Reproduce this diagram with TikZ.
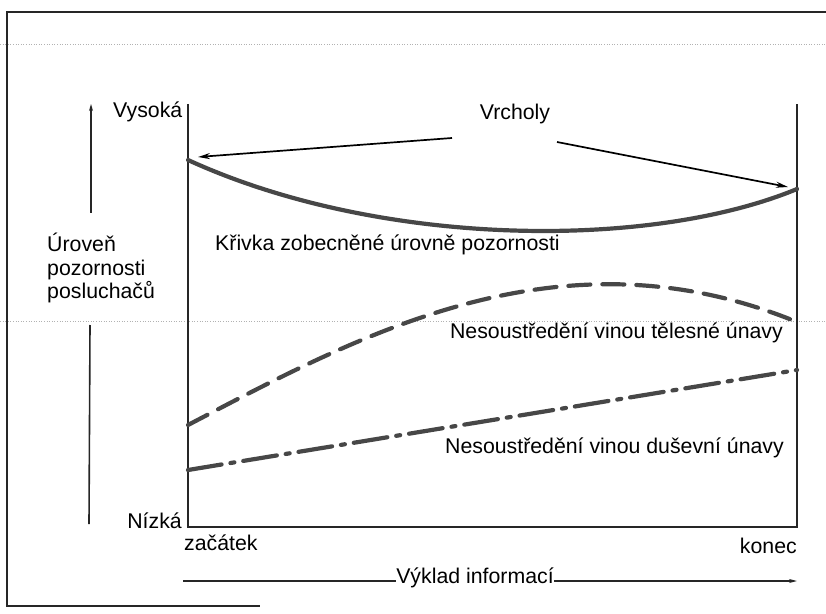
\documentclass[tikz,border=0pt]{standalone}
\usepackage{fontspec}
\setmainfont{Liberation Sans}
\usetikzlibrary{arrows.meta}
\begin{document}
\begin{tikzpicture}[x=1bp,y=-1bp,
  lbl/.style={font=\fontsize{21.3bp}{23.5bp}\selectfont, inner sep=0pt},
  axis/.style={line width=2.6bp, black!85},
  slim/.style={line width=1.6bp, black!85},
  curve/.style={line width=4.2bp, black!72, line cap=round},
  pointer/.style={line width=1.7bp, -{Stealth[length=12bp,width=6bp]}},
  scanline/.style={black!30, line width=0.6bp, dotted},
]
\useasboundingbox (0,0) rectangle (826,614);

% outer frame and faint ruling
\draw[line width=1.5bp, black!85] (826,12) -- (7,12) -- (7,606) -- (260,606);
\draw[scanline] (0,44) -- (826,44);
\draw[scanline] (0,321) -- (826,321);

% chart box
\coordinate (tl) at (188,104);
\coordinate (o)  at (188,527);
\coordinate (br) at (797,527);
\coordinate (tr) at (797,104);
\draw[axis] (tl) -- (o) -- (br) -- (tr);

% vertical scale with its label
\node[lbl, align=left, anchor=west] (ylab) at (47,268) {Úroveň\\pozornosti\\posluchačů};
\coordinate (ytop) at (91,104);
\coordinate (ygap1) at (91,213);
\coordinate (ygap2) at (90,325);
\coordinate (ybot) at (89,524);
\draw[slim, -{Stealth[length=7bp,width=4bp]}] (ygap1) -- (ytop);
\draw[slim] (ygap2) -- (ybot);
\node[lbl, anchor=base west] (high) at (113,118) {Vysoká};
\node[lbl, anchor=base east] (low) at (182,528) {Nízká};

% horizontal scale
\node[lbl, anchor=base west] (start) at (184,550) {začátek};
\node[lbl, anchor=base east] (end) at (797,553) {konec};
\node[lbl, anchor=base] (vyklad) at (475,583) {Výklad informací};
\coordinate (xl) at (183,581);
\coordinate (xr) at (797,581);
\draw[slim] (xl) -- (xl -| vyklad.west);
\draw[slim, -{Stealth[length=8bp,width=4bp]}] (xr -| vyklad.east) -- (xr);

% peaks
\node[lbl, anchor=base] (peaks) at (515,120) {Vrcholy};
\coordinate (pl0) at (452,138);
\coordinate (pl1) at (198,157);
\coordinate (pr0) at (557,142);
\coordinate (pr1) at (788,187);
\draw[pointer] (pl0) -- (pl1);
\draw[pointer] (pr0) -- (pr1);

% curves
\draw[curve] (188,160) .. controls (380,248) and (650,250) .. (797,189);
\draw[curve, dash pattern=on 22bp off 12bp] (188,425) .. controls (360,335) and (560,225) .. (797,322);
\draw[curve, dash pattern=on 34bp off 9bp on 4bp off 9bp] (188,470) -- (797,370);

\node[lbl, anchor=base west] (general) at (215,250) {Křivka zobecněné úrovně pozornosti};
\node[lbl, anchor=base east] (physical) at (783,338) {Nesoustředění vinou tělesné únavy};
\node[lbl, anchor=base east] (mental) at (784,453) {Nesoustředění vinou duševní únavy};
\end{tikzpicture}
\end{document}
